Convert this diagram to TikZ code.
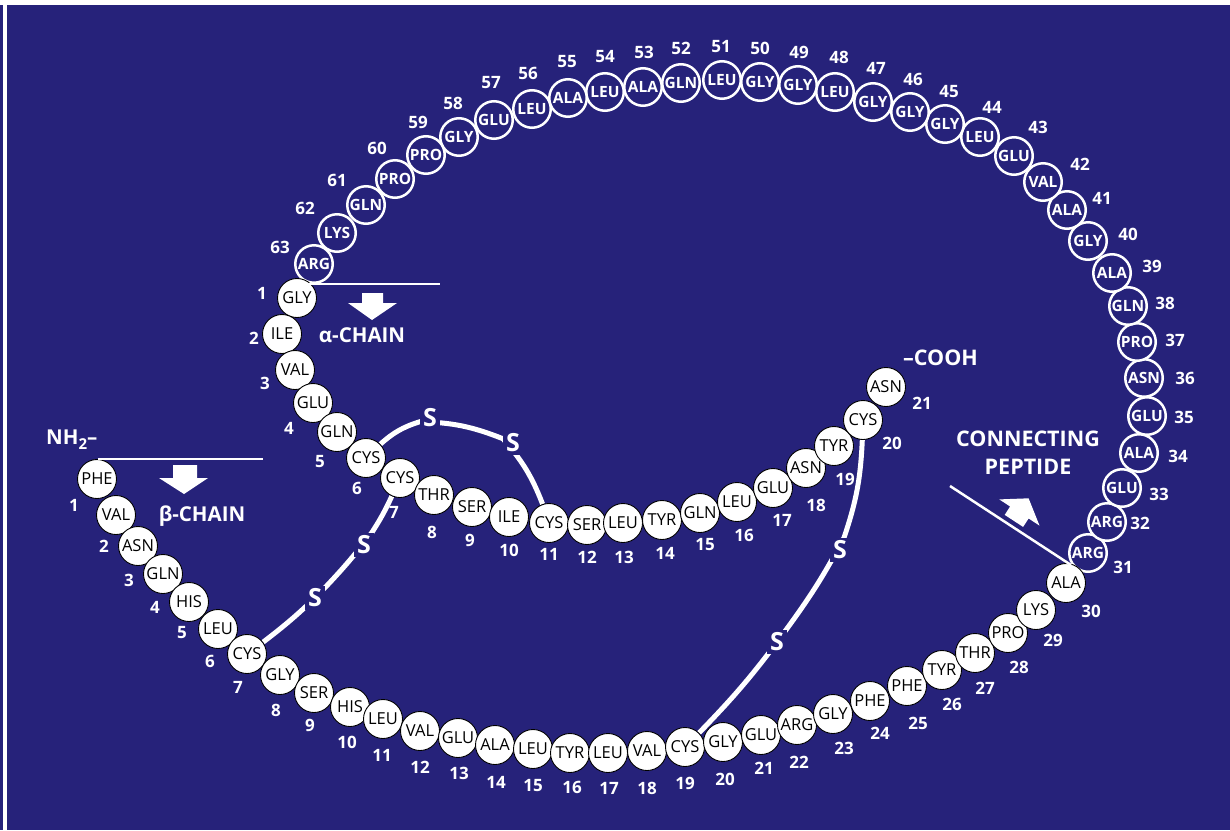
\documentclass[tikz,border=0pt]{standalone}
\usepackage{fontspec}
\setmainfont{Open Sans}
\pgfdeclarelayer{back}
\pgfdeclarelayer{mid}
\pgfsetlayers{back,mid,main}
\definecolor{bgblue}{RGB}{38,34,122}
\newcommand{\myres}{\fontsize{16.5}{16.5}\selectfont}
\newcommand{\mycres}{\bfseries\fontsize{15.5}{15.5}\selectfont}
\newcommand{\mynum}{\bfseries\fontsize{17}{17}\selectfont}
\newcommand{\mylab}{\bfseries\fontsize{20.5}{28}\selectfont}
\newcommand{\myS}{\bfseries\fontsize{25}{25}\selectfont}
\tikzset{
  res/.style={circle, draw=black, fill=white, line width=0.9pt, minimum size=39pt, inner sep=0pt, font=\myres, text=black},
  cres/.style={circle, draw=white, fill=bgblue, line width=2.5pt, minimum size=37.5pt, inner sep=0pt, font=\mycres, text=white},
  num/.style={text=white, font=\mynum, inner sep=0pt},
  lab/.style={text=white, font=\mylab, inner sep=0pt},
  sulf/.style={text=white, font=\myS, inner sep=3pt, fill=bgblue},
  bond/.style={draw=white, line width=5pt},
  rule/.style={draw=white, line width=2pt},
  blockarrow/.style={fill=white}
}
\begin{document}
\begin{tikzpicture}[x=1pt,y=-1pt]
\begin{pgfonlayer}{back}
\fill[bgblue] (0,0) rectangle (1230,830);
\fill[white] (0,0) rectangle (1230,4.7);
\fill[white] (2.8,0) rectangle (7.4,830);
\end{pgfonlayer}
\useasboundingbox (0,0) rectangle (1230,830);

% connecting peptide (31-63)
\foreach \i/\t/\x/\y in {31/ARG/1088/553, 32/ARG/1107/522, 33/GLU/1122/488, 34/ALA/1139/453, 35/GLU/1147/416, 36/ASN/1144/378, 37/PRO/1137/342, 38/GLN/1128/306, 39/ALA/1112/273, 40/GLY/1088/241, 41/ALA/1067/210, 42/VAL/1043/182, 43/GLU/1014/156, 44/LEU/980/137, 45/GLY/945/124, 46/GLY/910/112, 47/GLY/873/102, 48/LEU/835/92, 49/GLY/798/85, 50/GLY/760/82, 51/LEU/722/80, 52/GLN/681/83, 53/ALA/643/87, 54/LEU/605/92, 55/ALA/568/98, 56/LEU/532/109, 57/GLU/494/120, 58/GLY/459/137, 59/PRO/426/155, 60/PRO/395/179, 61/GLN/366/205, 62/LYS/337/233, 63/ARG/314/264}
  \node[cres] (c\i) at (\x,\y) {\t};

% alpha chain
\foreach \i/\t/\x/\y in {1/GLY/297/298, 2/ILE/282/334, 3/VAL/295/370, 4/GLU/313/403, 5/GLN/337/432, 6/CYS/366/458, 7/CYS/400/478, 8/THR/434/495, 9/SER/472/507, 10/ILE/509/517, 11/CYS/549/523, 12/SER/587/525, 13/LEU/623/523, 14/TYR/662/520, 15/GLN/700/513, 16/LEU/737/502, 17/GLU/773/488, 18/ASN/806/468, 19/TYR/834/446, 20/CYS/863/420, 21/ASN/886/387}
  \node[res] (a\i) at (\x,\y) {\t};

% beta chain
\foreach \i/\t/\x/\y in {1/PHE/97/479, 2/VAL/116/515, 3/ASN/138/546, 4/GLN/163/574, 5/HIS/189/602, 6/LEU/218/629, 7/CYS/247/654, 8/GLY/280/675, 9/SER/314/693, 10/HIS/350/707, 11/LEU/383/719, 12/VAL/420/731, 13/GLU/458/738, 14/ALA/495/745, 15/LEU/533/749, 16/TYR/570/753, 17/LEU/608/753, 18/VAL/647/751, 19/CYS/685/747, 20/GLY/723/742, 21/GLU/761/735, 22/ARG/797/725, 23/GLY/833/714, 24/PHE/870/701, 25/PHE/907/686, 26/TYR/942/670, 27/THR/975/653, 28/PRO/1008/633, 29/LYS/1036/610, 30/ALA/1066/583}
  \node[res] (b\i) at (\x,\y) {\t};

% numbers
\foreach \i/\x/\y in {31/1123/567, 32/1140/523, 33/1159/494, 34/1178/456, 35/1184/417, 36/1185/378, 37/1175/340, 38/1165/303, 39/1152/266, 40/1128/234, 41/1102/198, 42/1080/164, 43/1038/127, 44/992/107, 45/949/92, 46/913/79, 47/876/68, 48/839/57, 49/799/52, 50/760/48, 51/721/47, 52/681/48, 53/644/52, 54/605/57, 55/567/62, 56/528/73, 57/491/83, 58/453/103, 59/418/122, 60/377/148, 61/337/180, 62/305/208, 63/280/247}
  \node[num] (nc\i) at (\x,\y) {\i};
\foreach \i/\x/\y in {1/262/293, 2/254/338, 3/265/383, 4/289/428, 5/320/462, 6/357/488, 7/394/512, 8/432/532, 9/470/540, 10/509/550, 11/549/554, 12/587/557, 13/624/557, 14/665/553, 15/705/545, 16/744/535, 17/782/520, 18/816/505, 19/845/479, 20/892/443, 21/922/403}
  \node[num] (na\i) at (\x,\y) {\i};
\foreach \i/\x/\y in {1/74/505, 2/104/546, 3/129/580, 4/155/607, 5/182/633, 6/210/661, 7/238/687, 8/276/710, 9/310/725, 10/347/742, 11/382/755, 12/420/767, 13/459/773, 14/496/782, 15/533/786, 16/572/787, 17/609/788, 18/647/788, 19/685/783, 20/725/779, 21/764/768, 22/799/762, 23/844/748, 24/880/733, 25/918/723, 26/952/704, 27/985/688, 28/1019/667, 29/1053/640, 30/1091/611}
  \node[num] (nb\i) at (\x,\y) {\i};

% sulfur atoms
\node[sulf] (s1) at (430,418) {S};
\node[sulf] (s2) at (513,443) {S};
\node[sulf] (s3) at (364,545) {S};
\node[sulf] (s4) at (315,598) {S};
\node[sulf] (s5) at (840,550) {S};
\node[sulf] (s6) at (777,642) {S};

\begin{pgfonlayer}{mid}
\draw[bond] (a6) to[bend left=12] (s1) to[bend left=10] (s2) to[bend left=10] (a11);
\draw[bond] (a7) to[bend left=4] (s3) to[bend left=3] (s4) to[bend left=4] (b7);
\draw[bond] (a20) to[bend left=8] (s5) to[bend left=4] (s6) to[bend left=4] (b19);
\end{pgfonlayer}

% labels
\node[lab, anchor=west] (nh2) at (46,440) {NH\raisebox{-0.45ex}{\fontsize{15}{15}\selectfont 2}–};
\node[lab, anchor=east, font=\bfseries\fontsize{21.5}{28}\selectfont] (cooh) at (978,358) {–COOH};
\node[lab] (alab) at (362,335) {α-CHAIN};
\node[lab] (blab) at (202,516) {β-CHAIN};
\node[lab, align=center, font=\bfseries\fontsize{21.5}{28}\selectfont] (clab) at (1028,453) {CONNECTING\\PEPTIDE};

% rules
\coordinate (al0) at (306,284);
\coordinate (al1) at (440,284);
\coordinate (bl0) at (98,459);
\coordinate (bl1) at (263,459);
\coordinate (cl0) at (950,486);
\coordinate (cl1) at (1071,565);
\draw[rule] (al0) -- (al1);
\draw[rule] (bl0) -- (bl1);
\draw[rule, line width=2.5pt] (cl0) -- (cl1);

% block arrows
\fill[blockarrow] (362,293) -- (383,293) -- (383,303) -- (397,303) -- (372,320) -- (348,303) -- (362,303) -- cycle;
\fill[blockarrow] (173,465) -- (197,465) -- (197,478) -- (208,478) -- (184,494) -- (159,478) -- (173,478) -- cycle;
\fill[blockarrow] (1004.7,514.9) -- (1023.1,526.9) -- (1028.6,518.5) -- (1039.5,525.6) -- (1028.6,498.3) -- (999.3,499.4) -- (1010.1,506.5) -- cycle;
\end{tikzpicture}
\end{document}
